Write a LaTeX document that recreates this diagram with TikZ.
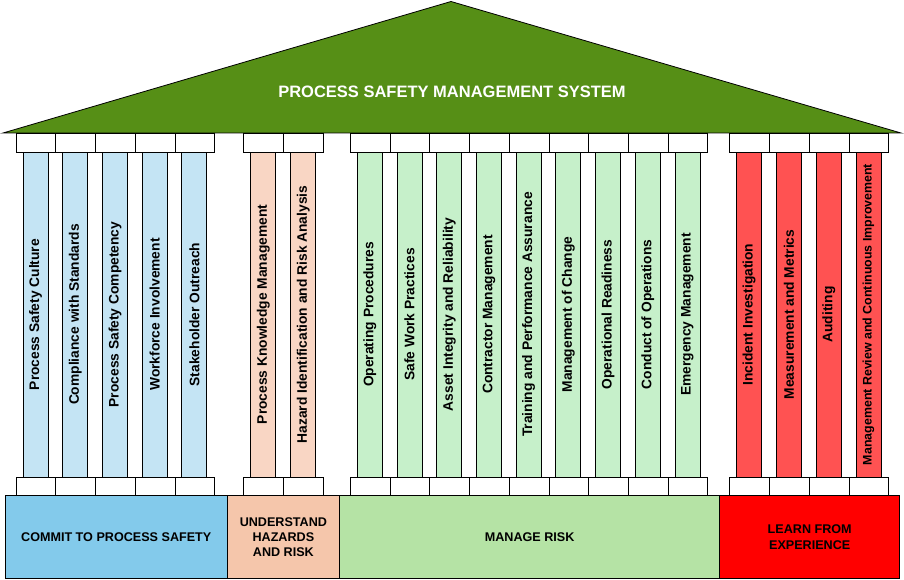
\documentclass[tikz,border=0pt]{standalone}
\usepackage{fontspec}
\setmainfont{Liberation Sans}
\definecolor{roofgreen}{HTML}{568F16}
\definecolor{baseblue}{HTML}{83CAEB}
\definecolor{basesalmon}{HTML}{F5C6AB}
\definecolor{basegreen}{HTML}{B5E3A5}
\definecolor{basered}{HTML}{FF0000}
\definecolor{colblue}{HTML}{C4E4F4}
\definecolor{colsalmon}{HTML}{F9D6C4}
\definecolor{colgreen}{HTML}{C6F0CA}
\definecolor{colred}{HTML}{FF5252}
\begin{document}
\begin{tikzpicture}[x=1pt,y=-1pt,
  capbox/.style={draw=black, line width=0.8pt, fill=white, minimum width=39.7pt, minimum height=19pt, inner sep=0pt, anchor=north west},
  colbox/.style={draw=black, line width=0.8pt, minimum width=325pt, minimum height=25pt, inner sep=0pt, rotate=90, font=\bfseries\fontsize{13.8}{15}\selectfont},
  basebox/.style={draw=black, line width=0.8pt, inner sep=0pt, anchor=north west, minimum height=83.3pt, align=center, font=\bfseries\fontsize{12.6}{15.3}\selectfont},
  rooftitle/.style={text=white, font=\bfseries\fontsize{16.5}{18}\selectfont}]
\useasboundingbox (0,0) rectangle (904,580);
% roof
\path[fill=roofgreen, draw=black, line width=0.8pt] (3,133) -- (451,1.5) -- (901,133) -- cycle;
\node[rooftitle] (title) at (452,92) {PROCESS SAFETY MANAGEMENT SYSTEM};
% group 1
\foreach [count=\k from 0] \t in {Process Safety Culture, Compliance with Standards, Process Safety Competency, Workforce Involvement, Stakeholder Outreach}{
  \node[capbox] (ta\k) at (15.7+\k*39.7,133) {};
  \node[capbox] (ba\k) at (15.7+\k*39.7,476.5) {};
  \node[colbox, fill=colblue] (ca\k) at (35.55+\k*39.7,314.5) {\t};
}
% group 2
\foreach [count=\k from 0] \t in {Process Knowledge Management, Hazard Identification and Risk Analysis}{
  \node[capbox] (tb\k) at (243.3+\k*40,133) {};
  \node[capbox] (bb\k) at (243.3+\k*40,476.5) {};
  \node[colbox, fill=colsalmon] (cb\k) at (263.3+\k*40,314.5) {\t};
}
% group 3
\foreach [count=\k from 0] \t in {Operating Procedures, Safe Work Practices, Asset Integrity and Reliability, Contractor Management, Training and Performance Assurance, Management of Change, Operational Readiness, Conduct of Operations, Emergency Management}{
  \node[capbox] (tc\k) at (350+\k*39.7,133) {};
  \node[capbox] (bc\k) at (350+\k*39.7,476.5) {};
  \node[colbox, fill=colgreen] (cc\k) at (369.85+\k*39.7,314.5) {\t};
}
% group 4
\foreach [count=\k from 0] \t in {Incident Investigation, Measurement and Metrics, Auditing, {\fontsize{12.4}{13}\selectfont Management Review and Continuous Improvement}}{
  \node[capbox] (td\k) at (729.3+\k*39.75,133) {};
  \node[capbox] (bd\k) at (729.3+\k*39.75,476.5) {};
  \node[colbox, fill=colred] (cd\k) at (749.2+\k*39.75,314.5) {\t};
}
% bases
\node[basebox, fill=baseblue, minimum width=221.7pt] (base1) at (5,495) {COMMIT TO PROCESS SAFETY};
\node[basebox, fill=basesalmon, minimum width=112.6pt] (base2) at (226.7,495) {UNDERSTAND\\HAZARDS\\AND RISK};
\node[basebox, fill=basegreen, minimum width=380pt] (base3) at (339.3,495) {MANAGE RISK};
\node[basebox, fill=basered, minimum width=180pt] (base4) at (719.3,495) {LEARN FROM\\EXPERIENCE};
\end{tikzpicture}
\end{document}
